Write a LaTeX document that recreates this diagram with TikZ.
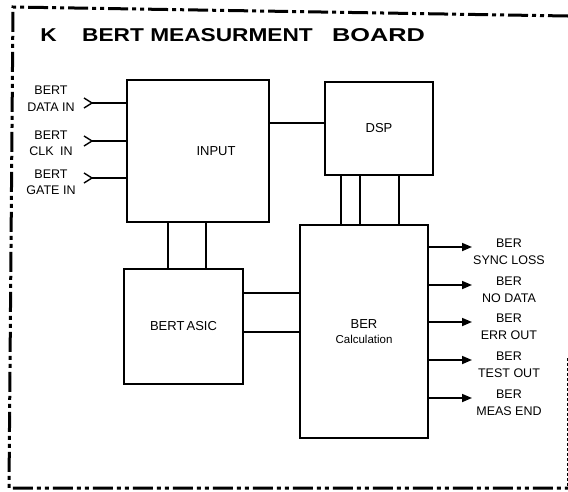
\documentclass[tikz,border=0pt]{standalone}
\usepackage{fontspec}
\setmainfont{Liberation Sans}
\newfontfamily\titlefont[FakeStretch=1.22]{Liberation Sans}
\newfontfamily\boardfont[FakeStretch=1.36]{Liberation Sans}
\usetikzlibrary{arrows.meta}
\usetikzlibrary{positioning}

\tikzset{block/.style    = {draw, line width=1.7pt, inner sep=0pt, align=center,
                            font=\fontsize{13}{15}\selectfont},
         wire/.style     = {line width=1.7pt},
         outarrow/.style = {wire, -{Triangle[length=10pt,width=8pt]}},
         pinlabel/.style = {align=center, inner sep=0pt,
                            font=\fontsize{12.5}{16.5}\selectfont},
         boardframe/.style = {line width=3pt,
                            dash pattern=on 20pt off 4pt on 4pt off 4pt on 4pt off 4pt}}

\begin{document}
\begin{tikzpicture}[x=1pt,y=-1pt]
  \useasboundingbox (0,0) rectangle (568,491);
  % board outline
  \draw[boardframe] (568,16) -- (13,7) -- (9,488) -- (568,488);
  \draw[line width=0.6pt, densely dashed] (567,358) -- (567,488);

  % title
  \node[inner sep=0pt] (titlek) at (48.5,35)
    {\titlefont\fontsize{18.6}{22}\selectfont\bfseries K};
  \node[inner sep=0pt, anchor=west] (titlemain) at (82,35)
    {\titlefont\fontsize{18.6}{22}\selectfont\bfseries BERT MEASURMENT};
  \node[inner sep=0pt, anchor=west] (titleboard) at (332,35)
    {\boardfont\fontsize{18.6}{22}\selectfont\bfseries BOARD};

  % blocks
  \node[block, minimum width=142pt, minimum height=142pt] (input) at (198,151) {};
  \node[pinlabel, font=\fontsize{13}{15}\selectfont] (inputtext) at (216,151) {INPUT};
  \node[block, minimum width=108pt, minimum height=93pt] (dsp) at (379,128.5) {DSP};
  \node[block, minimum width=119pt, minimum height=115pt] (asic) at (183.5,326.5) {BERT\,ASIC};
  \node[block, minimum width=128pt, minimum height=213pt] (bercalc) at (364,331.5)
    {BER\\{\fontsize{11.5}{15}\selectfont Calculation}};

  % inputs
  \coordinate (datapin) at (92,103);
  \coordinate (clkpin)  at (92,141);
  \coordinate (gatepin) at (92,178);
  \foreach \p in {datapin,clkpin,gatepin}{
    \draw[wire] (\p) -- (\p -| input.west);
    \draw[line width=1.4pt] (\p) ++(-8,-5) -- (\p) -- ++(-8,5);
  }
  \node[pinlabel] (datatext) at (51,98.5)  {BERT\\DATA IN};
  \node[pinlabel] (clktext)  at (51,143.5) {BERT\\CLK\enspace IN};
  \node[pinlabel] (gatetext) at (51,182.5) {BERT\\GATE IN};

  % internal links
  \draw[wire] ([yshift=28]input.east) -- ([yshift=28]input.east -| dsp.west);
  \foreach \dx in {-38,-19,20}
    \draw[wire] ([xshift=\dx]dsp.south) -- ([xshift=\dx]dsp.south |- bercalc.north);
  \foreach \dx in {-30,8}
    \draw[wire] ([xshift=\dx]input.south) -- ([xshift=\dx]input.south |- asic.north);
  \foreach \dy in {33.5,-5.5}
    \draw[wire] ([yshift=\dy]asic.east) -- ([yshift=\dy]asic.east -| bercalc.west);

  % outputs
  \foreach \y/\txt/\nm in {247/SYNC LOSS/sync, 285/NO DATA/nodata, 322/ERR OUT/errout,
                           360/TEST OUT/testout, 398/MEAS END/measend}{
    \coordinate (\nm) at (472,\y);
    \draw[outarrow] (\nm -| bercalc.east) -- (\nm);
    \node[pinlabel] (\nm-text) at (509,\y+5) {BER\\\txt};
  }
\end{tikzpicture}
\end{document}
